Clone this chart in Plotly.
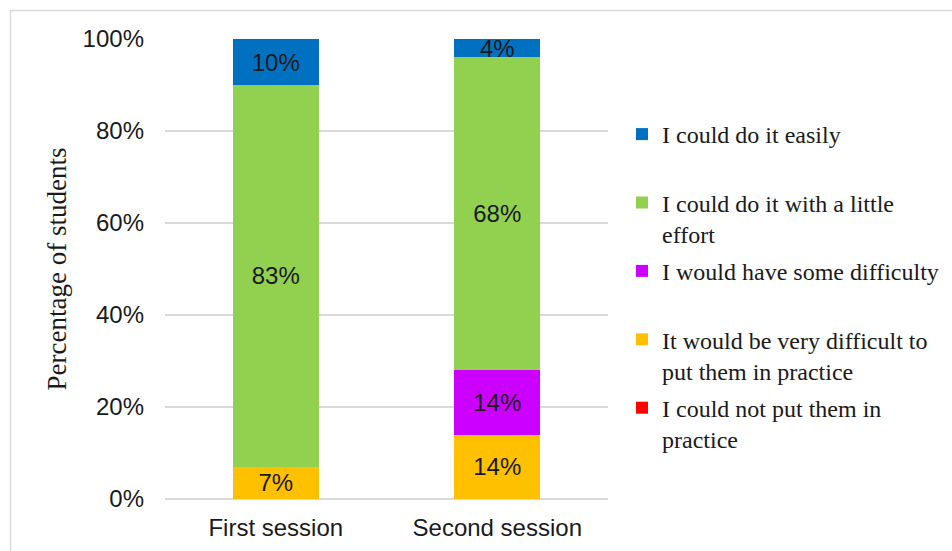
import plotly.graph_objects as go

categories = ["First session", "Second session"]
series_names = [
    "I could not put them in<br>practice",
    "It would be very difficult to<br>put them in practice",
    "I would have some difficulty<br> ",
    "I could do it with a little<br>effort",
    "I could do it easily<br> ",
]
not_put = [0, 0]
very_difficult = [7, 14]
some_difficulty = [0, 14]
little_effort = [83, 68]
easily = [10, 4]
colors = ["#FF0000", "#FFC000", "#CC00FF", "#92D050", "#0070C0"]
y_tick_values = [0, 20, 40, 60, 80, 100]
y_tick_labels = ["0%", "20%", "40%", "60%", "80%", "100%"]

series_values = [not_put, very_difficult, some_difficulty, little_effort, easily]

sans = "Liberation Sans, Arial, sans-serif"
serif = "Liberation Serif, Times New Roman, serif"

fig = go.Figure()
n = len(series_names)
for i, (name, vals, col) in enumerate(zip(series_names, series_values, colors)):
    fig.add_trace(go.Bar(
        x=categories, y=vals, name=name,
        marker=dict(color=col, line=dict(width=0)),
        text=[f"{v}%" if v else "" for v in vals],
        textposition="inside", insidetextanchor="middle",
        textangle=0, constraintext="none",
        textfont=dict(family=sans, size=24, color="#1a1a1a"),
        width=0.39, legendgroup=f"g{i}", legendrank=1000 + (n - i),
        hoverinfo="skip",
    ))

W, H = 952, 551
L, R, T, B = 165, 344, 39, 52
pw, ph = W - L - R, H - T - B

def px_to_paper_x(px):
    return (px - L) / pw

def px_to_paper_y(py):
    return (H - B - py) / ph

fig.update_layout(
    width=W, height=H,
    margin=dict(l=L, r=R, t=T, b=B, autoexpand=False),
    barmode="stack",
    paper_bgcolor="white", plot_bgcolor="white",
    showlegend=True,
    legend=dict(
        traceorder="grouped", valign="top",
        font=dict(family=serif, size=24, color="#1a1a1a"),
        x=px_to_paper_x(622), xanchor="left",
        y=px_to_paper_y(112), yanchor="top",
        tracegroupgap=3, bgcolor="rgba(0,0,0,0)",
    ),
    xaxis=dict(
        type="category", range=[-0.5, 1.5],
        showgrid=False, showline=False, ticks="",
        tickfont=dict(family=sans, size=24, color="#1a1a1a"),
        ticklabelstandoff=12,
    ),
    yaxis=dict(
        range=[0, 100], tickvals=y_tick_values, ticktext=y_tick_labels,
        showgrid=True, gridcolor="#d9d9d9", gridwidth=1.5,
        zeroline=True, zerolinecolor="#d9d9d9", zerolinewidth=1.5,
        showline=False, ticks="",
        tickfont=dict(family=sans, size=24, color="#1a1a1a"),
        ticklabelstandoff=20,
        title=dict(text="Percentage of students", standoff=8,
                   font=dict(family=serif, size=27, color="#1a1a1a")),
    ),
    shapes=[dict(
        type="rect", xref="paper", yref="paper",
        x0=px_to_paper_x(10.5), x1=px_to_paper_x(980),
        y0=px_to_paper_y(580), y1=px_to_paper_y(10.5),
        line=dict(color="#d9d9d9", width=1.5), fillcolor="rgba(0,0,0,0)",
        layer="below",
    )],
)

fig.write_html("out.html")
